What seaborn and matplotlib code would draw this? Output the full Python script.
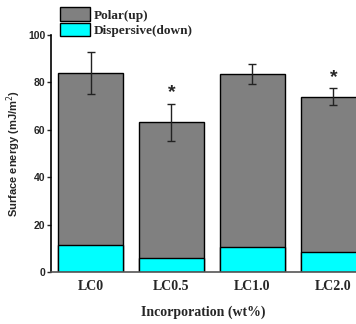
import matplotlib
matplotlib.use("Agg")
import matplotlib.pyplot as plt
import seaborn as sns
import pandas as pd
from matplotlib.patches import Patch

categories = ["LC0", "LC0.5", "LC1.0", "LC2.0"]
total_energy = [84.0, 63.3, 83.4, 74.0]
total_err = [9.0, 7.8, 4.2, 3.5]
dispersive = [11.4, 5.9, 10.4, 8.3]
significant = [False, True, False, True]
yticks = [0, 20, 40, 60, 80, 100]

df = pd.DataFrame({"cat": categories, "total": total_energy,
                   "err": total_err, "disp": dispersive})

sns.set_style("white")
fig = plt.figure(figsize=(3.56, 3.24), dpi=100)
ax = fig.add_axes([0.143, 0.16, 0.857, 0.732])

sns.barplot(data=df, x="cat", y="total", color="#808080", saturation=1,
            width=0.8, edgecolor="black", linewidth=1.0, errorbar=None, ax=ax)
sns.barplot(data=df, x="cat", y="disp", color="#00ffff", saturation=1,
            width=0.8, edgecolor="black", linewidth=1.0, errorbar=None, ax=ax)

xs = list(range(len(categories)))
ax.errorbar(xs, df["total"], yerr=df["err"], fmt="none", ecolor="#222222",
            elinewidth=1.0, capsize=3, capthick=1.0, zorder=5)
for x, t, e, s in zip(xs, total_energy, total_err, significant):
    if s:
        ax.text(x, t + e + 4.5, "*", ha="center", va="center",
                fontsize=14, fontweight="bold", family="Liberation Sans")

ax.set_xlim(-0.49, 3.28)
ax.set_ylim(0, 100)
ax.set_yticks(yticks)
ax.set_yticklabels([str(v) for v in yticks], fontsize=7.5, fontweight="bold",
                   family="Liberation Sans")
ax.tick_params(axis="y", length=3, width=1, direction="out", left=True, pad=1)
ax.tick_params(axis="x", length=0, pad=6)
for lbl in ax.get_xticklabels():
    lbl.set_fontfamily("Liberation Serif")
    lbl.set_fontweight("bold")
    lbl.set_fontsize(10)

ax.set_xlabel("Incorporation (wt%)", fontsize=10, fontweight="bold",
              family="Liberation Serif", labelpad=9)
ax.set_ylabel("Surface energy (mJ/m$^2$)", fontsize=8, fontweight="bold",
              family="Liberation Sans", labelpad=4)

for sp in ["top", "right"]:
    ax.spines[sp].set_visible(False)
for sp in ["left", "bottom"]:
    ax.spines[sp].set_color("black")
    ax.spines[sp].set_linewidth(1.2)
ax.spines["bottom"].set_color("#555555")

handles = [Patch(facecolor="#808080", edgecolor="black", label="Polar(up)"),
           Patch(facecolor="#00ffff", edgecolor="black", label="Dispersive(down)")]
fig.legend(handles=handles, loc="upper left", bbox_to_anchor=(0.16, 0.985),
           frameon=False, prop={"family": "Liberation Serif", "weight": "bold", "size": 9.5},
           handlelength=2.3, handleheight=1.15, handletextpad=0.25, labelspacing=0.1,
           borderaxespad=0.1, borderpad=0.1)

fig.savefig("out.png", dpi=100)
